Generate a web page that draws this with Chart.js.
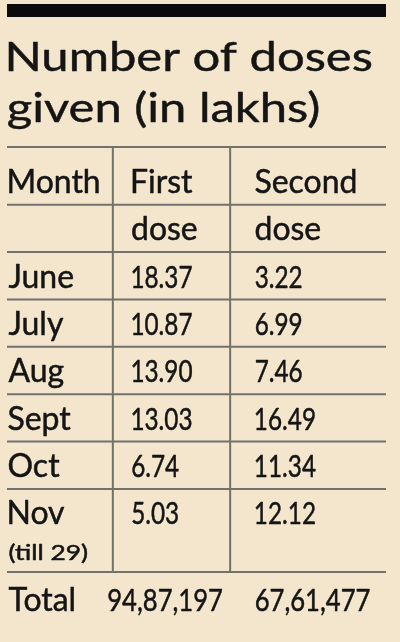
<!DOCTYPE html>
<html>
<head>
<meta charset="utf-8">
<script src="https://cdn.jsdelivr.net/npm/chart.js@4.4.1/dist/chart.umd.min.js"></script>
<style>
  html, body { margin: 0; padding: 0; background: #f3e6cd; }
  #wrap { position: relative; width: 400px; height: 642px; }
</style>
</head>
<body>
<div id="wrap"><canvas id="c"></canvas></div>
<script>
// ---------------- data ----------------
const titleLines   = ['Number of doses', 'given (in lakhs)'];
const headerTop    = ['Month', 'First', 'Second'];
const headerBottom = ['', 'dose', 'dose'];
const months       = ['June', 'July', 'Aug', 'Sept', 'Oct', 'Nov'];
const monthNotes   = ['', '', '', '', '', '(till 29)'];
const firstDose    = [18.37, 10.87, 13.90, 13.03, 6.74, 5.03];
const secondDose   = [3.22, 6.99, 7.46, 16.49, 11.34, 12.12];
const totalLabel   = 'Total';
const totalFirst   = 9487197;
const totalSecond  = 6761477;

// ---------------- style ----------------
const STYLE = {
  paper: '#f3e6cd', ink: '#151515', rule: '#73716b', bar: '#0b0b0b',
  font: 'Lato, "Open Sans", "Noto Sans", sans-serif',
  barBox: [7, 4, 379, 13],
  titleSize: 41, titleInkLeft: 8, titleInkWidth: 364, titleBaselines: [70.5, 122],
  titleStroke: 0.45, cellStroke: 0.5,
  wordSize: 32.7, numSize: 30.5, noteSize: 20.5,
  wordFitWidth: 91,   // ink width of the first header word
  numFitWidth: 60,    // ink width of the first value
  noteFitWidth: 79,   // ink width of the note
  totalStretch: 1.055,
  baselineDrop: 11.7, // from row centre to text baseline
  noteOffset: 0.76,   // note sits this many rows below its month
  totalGap: 0.82,     // total row distance after the last month row
  bottomRuleGap: 0.25,
  totalShift: [0, -0.194, 0],
  dividers: [0.845, 1.795],
  ruleWidth: 2
};

function fmtIN(n) {
  const s = String(n);
  const last3 = s.slice(-3);
  const rest = s.slice(0, -3);
  return rest ? rest.replace(/\B(?=(\d{2})+(?!\d))/g, ',') + ',' + last3 : last3;
}

const firstMonthRow = 2;
const lastMonthRow = firstMonthRow + months.length - 1;
const totalRow = lastMonthRow + 1 + STYLE.totalGap;

const headerCells = headerTop.map((t, c) => ({ x: c, y: 0, t }))
  .concat(headerBottom.map((t, c) => ({ x: c, y: 1, t })).filter(d => d.t));
const monthCells  = months.map((t, i) => ({ x: 0, y: firstMonthRow + i, t }));
const noteCells   = monthNotes.map((t, i) => ({ x: 0, y: firstMonthRow + i + STYLE.noteOffset, t })).filter(d => d.t);
const firstCells  = firstDose.map((v, i) => ({ x: 1, y: firstMonthRow + i, t: v.toFixed(2) }));
const secondCells = secondDose.map((v, i) => ({ x: 2, y: firstMonthRow + i, t: v.toFixed(2) }));
const totalCells  = [
  { x: 0 + STYLE.totalShift[0], y: totalRow, t: totalLabel, kind: 'word' },
  { x: 1 + STYLE.totalShift[1], y: totalRow, t: fmtIN(totalFirst), kind: 'total' },
  { x: 2 + STYLE.totalShift[2], y: totalRow, t: fmtIN(totalSecond), kind: 'total' }
];

function ds(label, data, kind) {
  return { label, data, kind, pointRadius: 0, pointHoverRadius: 0, showLine: false };
}

function inkOf(ctx, text) {
  const m = ctx.measureText(text);
  return { left: m.actualBoundingBoxLeft, width: m.actualBoundingBoxLeft + m.actualBoundingBoxRight };
}

function drawScaled(ctx, text, inkLeft, baseline, sx, stroke) {
  const ink = inkOf(ctx, text);
  ctx.save();
  ctx.translate(inkLeft + ink.left * sx, baseline);
  ctx.scale(sx, 1);
  ctx.fillText(text, 0, 0);
  if (stroke) {
    ctx.lineWidth = stroke;
    ctx.lineJoin = 'round';
    ctx.strokeText(text, 0, 0);
  }
  ctx.restore();
}

const tablePlugin = {
  id: 'tableDraw',
  beforeDraw(chart) {
    const { ctx, chartArea, scales: { x, y } } = chart;
    ctx.save();
    ctx.fillStyle = STYLE.paper;
    ctx.fillRect(0, 0, chart.width, chart.height);
    // top black bar
    ctx.fillStyle = STYLE.bar;
    ctx.fillRect(...STYLE.barBox);
    // title
    ctx.fillStyle = STYLE.ink;
    ctx.strokeStyle = STYLE.ink;
    ctx.textBaseline = 'alphabetic';
    ctx.font = `${STYLE.titleSize}px ${STYLE.font}`;
    const tsx = STYLE.titleInkWidth / inkOf(ctx, titleLines[0]).width;
    titleLines.forEach((line, i) => drawScaled(ctx, line, STYLE.titleInkLeft, STYLE.titleBaselines[i], tsx, STYLE.titleStroke));
    // rules
    ctx.strokeStyle = STYLE.rule;
    ctx.lineWidth = STYLE.ruleWidth;
    const bottomRule = lastMonthRow + 1 + STYLE.bottomRuleGap;
    const rows = [y.min];
    for (let r = 0; r < lastMonthRow; r++) rows.push(r + 0.5);
    rows.push(bottomRule);
    ctx.beginPath();
    rows.forEach(v => {
      const py = v === y.min ? chartArea.top + 1 : y.getPixelForValue(v);
      ctx.moveTo(chartArea.left, py); ctx.lineTo(chartArea.right, py);
    });
    STYLE.dividers.forEach(v => {
      const px = x.getPixelForValue(v);
      ctx.moveTo(px, chartArea.top); ctx.lineTo(px, y.getPixelForValue(bottomRule) + 1);
    });
    ctx.stroke();
    ctx.restore();
  },
  afterDatasetsDraw(chart) {
    const { ctx } = chart;
    ctx.save();
    ctx.fillStyle = STYLE.ink;
    ctx.strokeStyle = STYLE.ink;
    ctx.textBaseline = 'alphabetic';
    ctx.font = `${STYLE.wordSize}px ${STYLE.font}`;
    const wordSx = STYLE.wordFitWidth / inkOf(ctx, headerTop[0]).width;
    ctx.font = `${STYLE.numSize}px ${STYLE.font}`;
    const numSx = STYLE.numFitWidth / inkOf(ctx, firstDose[0].toFixed(2)).width;
    ctx.font = `${STYLE.noteSize}px ${STYLE.font}`;
    const noteText = monthNotes.find(t => t) || '';
    const noteSx = noteText ? STYLE.noteFitWidth / inkOf(ctx, noteText).width : 1;
    chart.data.datasets.forEach((d, di) => {
      const meta = chart.getDatasetMeta(di);
      meta.data.forEach((el, j) => {
        const cell = d.data[j];
        const kind = cell.kind || d.kind;
        let size = STYLE.wordSize, sx = wordSx;
        if (kind === 'num') { size = STYLE.numSize; sx = numSx; }
        if (kind === 'total') { size = STYLE.numSize; sx = numSx * STYLE.totalStretch; }
        if (kind === 'note') { size = STYLE.noteSize; sx = noteSx; }
        ctx.font = `${size}px ${STYLE.font}`;
        drawScaled(ctx, cell.t, el.x, el.y + STYLE.baselineDrop, sx, STYLE.cellStroke);
      });
    });
    ctx.restore();
  }
};

function build() {
  new Chart(document.getElementById('c'), {
    type: 'scatter',
    data: {
      datasets: [
        ds('Header', headerCells, 'word'),
        ds('Month', monthCells, 'word'),
        ds('Note', noteCells, 'note'),
        ds('First dose', firstCells, 'num'),
        ds('Second dose', secondCells, 'num'),
        ds('Total', totalCells, 'word')
      ]
    },
    options: {
      responsive: true,
      maintainAspectRatio: false,
      animation: false,
      events: [],
      layout: { padding: { top: 146, left: 7, right: 14, bottom: 0 } },
      plugins: { legend: { display: false }, tooltip: { enabled: false }, title: { display: false } },
      scales: {
        x: { type: 'linear', min: -0.012, max: 3.057, display: false },
        y: { type: 'linear', reverse: true, min: -0.74, max: 9.73, display: false }
      }
    },
    plugins: [tablePlugin]
  });
}

const fontReady = document.fonts && document.fonts.load
  ? Promise.race([
      Promise.all([document.fonts.load('32px Lato'), document.fonts.load('20px Lato')]),
      new Promise(r => setTimeout(r, 800))
    ]).catch(() => {})
  : Promise.resolve();
fontReady.then(build);
</script>
</body>
</html>
